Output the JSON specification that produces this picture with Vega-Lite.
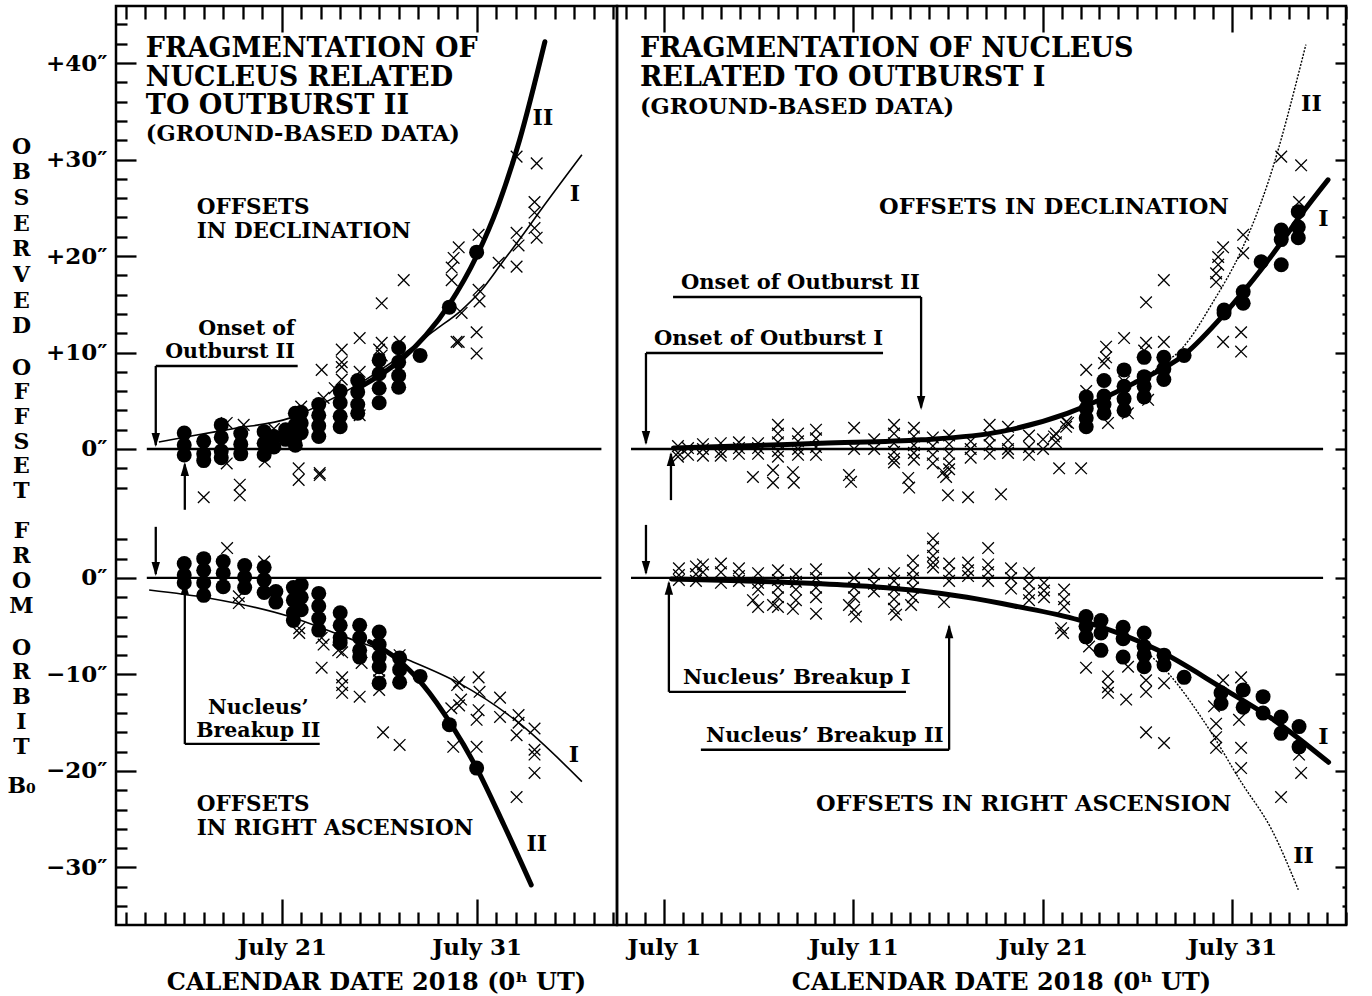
{
"$schema":"https://vega.github.io/schema/vega-lite/v6.json",
"background":"white",
"padding":{"left":5,"top":3,"right":5,"bottom":3},
"spacing":0,
"bounds":"flush",
"config":{
 "view":{"stroke":"black","strokeWidth":2.5},
 "axis":{"grid":false,"domain":false,"tickColor":"black","tickWidth":2.3,"labelFont":"DejaVu Serif","labelFontWeight":"bold","labelFontSize":23,"labelColor":"black","titleFont":"DejaVu Serif","titleFontWeight":"bold","titleFontSize":24,"titleColor":"black","labelOverlap":false,"labelFlush":false},
 "text":{"font":"DejaVu Serif"}
},
"datasets":{
 "LruD":[{"t":14.08,"t2":37.4,"v":0,"v2":0},{"t":14.54,"t2":21.82,"v":8.6,"v2":8.6},{"t":14.54,"t2":14.54,"v":8.6,"v2":0.4},{"t":16.03,"t2":16.03,"v":-6.3,"v2":-1.6}],
 "LruR":[{"t":14.08,"t2":37.4,"v":0,"v2":0},{"t":14.54,"t2":14.54,"v":5.3,"v2":0.4},{"t":16.03,"t2":16.03,"v":-17.2,"v2":-0.5},{"t":16.03,"t2":22.95,"v":-17.2,"v2":-17.2}],
 "LahD":[{"t":14.54,"v":0.2,"d":"down"},{"t":16.03,"v":-1.35,"d":"up"}],
 "LahR":[{"t":14.54,"v":0.2,"d":"down"},{"t":16.03,"v":-0.3,"d":"up"}],
 "RruD":[{"t":-0.74,"t2":35.81,"v":0,"v2":0},{"t":1.48,"t2":14.58,"v":15.75,"v2":15.75},{"t":14.58,"t2":14.58,"v":15.75,"v2":4.3},{"t":0.05,"t2":12.57,"v":9.95,"v2":9.95},{"t":0.05,"t2":0.05,"v":9.95,"v2":0.6},{"t":1.37,"t2":1.37,"v":-5.3,"v2":-0.5}],
 "RruR":[{"t":-0.74,"t2":35.81,"v":0,"v2":0},{"t":0.05,"t2":0.05,"v":5.5,"v2":0.5},{"t":1.26,"t2":1.26,"v":-11.8,"v2":-0.5},{"t":1.26,"t2":13.78,"v":-11.8,"v2":-11.8},{"t":16.06,"t2":16.06,"v":-17.8,"v2":-5.0},{"t":2.95,"t2":16.06,"v":-17.8,"v2":-17.8}],
 "RahD":[{"t":14.58,"v":4.04,"d":"down"},{"t":0.05,"v":0.41,"d":"down"},{"t":1.37,"v":-0.3,"d":"up"}],
 "RahR":[{"t":0.05,"v":0.3,"d":"down"},{"t":1.26,"v":-0.3,"d":"up"},{"t":16.06,"v":-4.8,"d":"up"}],
 "LDo":[{"t":16.0,"v":1.66},{"t":16.0,"v":0.41},{"t":16.0,"v":-0.62},{"t":17.0,"v":0.8},{"t":17.0,"v":-0.5},{"t":17.0,"v":-1.2},{"t":17.9,"v":2.5},{"t":17.9,"v":1.2},{"t":17.9,"v":-0.2},{"t":17.9,"v":-0.9},{"t":18.9,"v":1.6},{"t":18.9,"v":0.5},{"t":18.9,"v":-0.5},{"t":20.1,"v":1.8},{"t":20.1,"v":0.6},{"t":20.1,"v":-0.6},{"t":20.6,"v":1.3},{"t":20.6,"v":0.2},{"t":21.2,"v":2.0},{"t":21.2,"v":1.0},{"t":21.7,"v":3.7},{"t":21.7,"v":2.5},{"t":21.7,"v":1.2},{"t":21.7,"v":0.4},{"t":22.0,"v":3.8},{"t":22.0,"v":2.7},{"t":22.0,"v":1.7},{"t":22.9,"v":4.6},{"t":22.9,"v":3.5},{"t":22.9,"v":2.4},{"t":22.9,"v":1.3},{"t":24.0,"v":6.0},{"t":24.0,"v":4.8},{"t":24.0,"v":3.4},{"t":24.0,"v":2.3},{"t":24.9,"v":7.1},{"t":24.9,"v":5.9},{"t":24.9,"v":4.6},{"t":24.9,"v":3.7},{"t":26.0,"v":9.2},{"t":26.0,"v":7.8},{"t":26.0,"v":6.3},{"t":26.0,"v":4.8},{"t":27.0,"v":10.5},{"t":27.0,"v":9.0},{"t":27.0,"v":7.6},{"t":27.0,"v":6.4},{"t":28.1,"v":9.7},{"t":29.6,"v":14.7},{"t":31.0,"v":20.4}],
 "LDx":[{"t":17.0,"v":-5.0},{"t":18.85,"v":-3.7},{"t":18.85,"v":-4.8},{"t":21.87,"v":-2.0},{"t":21.87,"v":-3.2},{"t":22.95,"v":-2.5},{"t":22.95,"v":-2.7},{"t":18.18,"v":-1.5},{"t":18.18,"v":2.7},{"t":20.13,"v":-1.3},{"t":19.05,"v":2.5},{"t":23.05,"v":8.2},{"t":24.08,"v":10.3},{"t":24.08,"v":9.0},{"t":24.08,"v":8.5},{"t":24.08,"v":7.2},{"t":25.0,"v":11.5},{"t":25.0,"v":8.0},{"t":25.0,"v":3.5},{"t":26.13,"v":11.0},{"t":26.13,"v":9.7},{"t":26.13,"v":15.1},{"t":27.05,"v":11.1},{"t":23.15,"v":5.3},{"t":23.72,"v":6.3},{"t":29.97,"v":11.1},{"t":27.26,"v":17.5},{"t":33.05,"v":30.3},{"t":33.05,"v":22.4},{"t":33.05,"v":18.9},{"t":33.15,"v":21.1},{"t":34.08,"v":29.6},{"t":34.08,"v":21.9},{"t":33.97,"v":25.6},{"t":33.97,"v":24.5},{"t":33.97,"v":22.9},{"t":32.13,"v":19.3},{"t":31.1,"v":22.2},{"t":31.1,"v":16.5},{"t":31.15,"v":15.3},{"t":30.08,"v":20.9},{"t":30.08,"v":11.1},{"t":29.82,"v":19.8},{"t":29.72,"v":18.8},{"t":29.72,"v":17.5},{"t":30.23,"v":14.1},{"t":31.0,"v":12.1},{"t":31.0,"v":9.9},{"t":24.9,"v":6.8},{"t":22.0,"v":4.4},{"t":26.0,"v":10.3},{"t":20.6,"v":2.1}],
 "LRo":[{"t":16.0,"v":1.5},{"t":16.0,"v":0.3},{"t":16.0,"v":-0.5},{"t":17.0,"v":2.0},{"t":17.0,"v":0.8},{"t":17.0,"v":-0.5},{"t":17.0,"v":-1.8},{"t":18.0,"v":1.7},{"t":18.0,"v":0.5},{"t":18.0,"v":-0.9},{"t":19.1,"v":1.3},{"t":19.1,"v":0.1},{"t":19.1,"v":-1.0},{"t":20.1,"v":1.1},{"t":20.1,"v":-0.2},{"t":20.1,"v":-1.5},{"t":20.7,"v":-1.4},{"t":20.7,"v":-2.5},{"t":21.6,"v":-1.0},{"t":21.6,"v":-2.3},{"t":21.6,"v":-3.6},{"t":21.6,"v":-4.4},{"t":22.0,"v":-0.7},{"t":22.0,"v":-2.0},{"t":22.0,"v":-3.3},{"t":22.9,"v":-1.6},{"t":22.9,"v":-2.9},{"t":22.9,"v":-4.2},{"t":22.9,"v":-5.4},{"t":24.0,"v":-3.6},{"t":24.0,"v":-4.9},{"t":24.0,"v":-6.2},{"t":24.0,"v":-6.7},{"t":25.0,"v":-4.9},{"t":25.0,"v":-6.2},{"t":25.0,"v":-7.5},{"t":25.0,"v":-8.2},{"t":26.0,"v":-5.6},{"t":26.0,"v":-6.9},{"t":26.0,"v":-8.2},{"t":26.0,"v":-9.2},{"t":27.05,"v":-8.3},{"t":27.05,"v":-9.5},{"t":27.05,"v":-10.8},{"t":26.0,"v":-10.9},{"t":28.1,"v":-10.2},{"t":29.6,"v":-15.2},{"t":31.0,"v":-19.7}],
 "LRx":[{"t":18.2,"v":3.1},{"t":20.1,"v":1.7},{"t":18.8,"v":-1.9},{"t":18.8,"v":-2.6},{"t":21.9,"v":-5.2},{"t":21.9,"v":-5.7},{"t":23.05,"v":-6.2},{"t":23.05,"v":-9.3},{"t":23.15,"v":-6.9},{"t":23.9,"v":-7.5},{"t":24.1,"v":-7.7},{"t":24.1,"v":-10.3},{"t":24.1,"v":-11.1},{"t":24.1,"v":-11.9},{"t":25.0,"v":-12.3},{"t":25.1,"v":-8.8},{"t":26.0,"v":-10.6},{"t":26.0,"v":-11.6},{"t":30.0,"v":-11.1},{"t":26.2,"v":-16.0},{"t":27.05,"v":-17.3},{"t":30.1,"v":-10.8},{"t":30.1,"v":-13.2},{"t":31.1,"v":-10.3},{"t":31.15,"v":-11.8},{"t":30.2,"v":-12.6},{"t":29.7,"v":-13.5},{"t":32.2,"v":-12.4},{"t":32.2,"v":-14.4},{"t":31.1,"v":-13.7},{"t":31.0,"v":-14.7},{"t":33.15,"v":-14.2},{"t":33.15,"v":-15.0},{"t":33.05,"v":-16.3},{"t":33.05,"v":-22.7},{"t":33.97,"v":-15.6},{"t":33.97,"v":-17.8},{"t":33.97,"v":-18.3},{"t":33.97,"v":-20.2},{"t":29.8,"v":-17.5},{"t":31.0,"v":-17.5},{"t":26.0,"v":-9.6},{"t":27.05,"v":-8.0}],
 "RDo":[{"t":23.3,"v":5.4},{"t":23.3,"v":4.2},{"t":23.3,"v":2.3},{"t":23.3,"v":3.2},{"t":24.24,"v":7.1},{"t":24.24,"v":5.5},{"t":24.24,"v":3.7},{"t":24.24,"v":4.6},{"t":25.3,"v":8.2},{"t":25.3,"v":6.5},{"t":25.3,"v":4.0},{"t":25.3,"v":5.2},{"t":26.36,"v":9.5},{"t":26.36,"v":7.5},{"t":26.36,"v":5.4},{"t":26.36,"v":6.5},{"t":27.4,"v":9.5},{"t":27.4,"v":7.2},{"t":27.4,"v":8.3},{"t":28.47,"v":9.7},{"t":30.58,"v":14.4},{"t":30.58,"v":14.1},{"t":31.59,"v":16.3},{"t":31.59,"v":15.1},{"t":32.54,"v":19.4},{"t":33.6,"v":19.1},{"t":33.6,"v":22.7},{"t":33.6,"v":21.7},{"t":34.5,"v":24.6},{"t":34.5,"v":21.9},{"t":34.5,"v":23.0}],
 "RDx":[{"t":1.74,"v":0.3},{"t":1.74,"v":-0.4},{"t":1.74,"v":-0.8},{"t":2.27,"v":0.1},{"t":2.27,"v":-0.6},{"t":3.06,"v":0.5},{"t":3.06,"v":0.0},{"t":3.06,"v":-0.7},{"t":4.0,"v":0.6},{"t":4.0,"v":-0.3},{"t":4.0,"v":-0.7},{"t":4.96,"v":0.7},{"t":4.96,"v":0.1},{"t":4.96,"v":-0.5},{"t":5.97,"v":0.6},{"t":5.97,"v":0.1},{"t":5.97,"v":-0.5},{"t":7.02,"v":2.5},{"t":7.02,"v":1.6},{"t":7.02,"v":0.7},{"t":7.02,"v":-0.2},{"t":7.02,"v":-0.8},{"t":8.08,"v":1.6},{"t":8.08,"v":0.8},{"t":8.08,"v":0.0},{"t":8.08,"v":-0.6},{"t":9.03,"v":2.0},{"t":9.03,"v":1.1},{"t":9.03,"v":0.2},{"t":9.03,"v":-0.6},{"t":11.04,"v":2.2},{"t":11.04,"v":0.0},{"t":12.1,"v":1.0},{"t":12.1,"v":0.0},{"t":13.15,"v":2.5},{"t":13.15,"v":1.6},{"t":13.15,"v":0.6},{"t":13.15,"v":-0.3},{"t":13.15,"v":-1.0},{"t":13.15,"v":-1.4},{"t":14.2,"v":2.2},{"t":14.2,"v":1.3},{"t":14.2,"v":0.4},{"t":14.2,"v":-0.4},{"t":14.2,"v":-1.1},{"t":15.2,"v":1.2},{"t":15.2,"v":0.3},{"t":15.2,"v":-0.6},{"t":15.2,"v":-1.5},{"t":16.06,"v":1.4},{"t":16.06,"v":0.5},{"t":16.06,"v":-0.5},{"t":16.06,"v":-1.5},{"t":16.06,"v":-2.1},{"t":17.2,"v":0.8},{"t":17.2,"v":0.0},{"t":17.2,"v":-0.9},{"t":18.2,"v":2.5},{"t":18.2,"v":1.4},{"t":18.2,"v":0.4},{"t":18.2,"v":-0.5},{"t":19.17,"v":2.3},{"t":19.17,"v":0.9},{"t":19.17,"v":0.0},{"t":19.17,"v":-0.4},{"t":20.28,"v":1.4},{"t":20.28,"v":0.2},{"t":20.28,"v":-0.6},{"t":21.02,"v":1.0},{"t":21.02,"v":0.0},{"t":21.7,"v":1.6},{"t":21.7,"v":0.7},{"t":22.24,"v":2.3},{"t":22.24,"v":2.8},{"t":5.7,"v":-2.9},{"t":6.76,"v":-2.2},{"t":6.76,"v":-3.5},{"t":7.81,"v":-2.4},{"t":7.86,"v":-3.5},{"t":10.77,"v":-2.7},{"t":10.88,"v":-3.4},{"t":13.9,"v":-3.0},{"t":13.95,"v":-4.0},{"t":15.75,"v":-2.4},{"t":15.9,"v":-2.9},{"t":16.0,"v":-4.8},{"t":17.06,"v":-5.0},{"t":18.8,"v":-4.7},{"t":21.87,"v":-2.0},{"t":23.03,"v":-2.0},{"t":33.6,"v":30.3},{"t":34.65,"v":29.4},{"t":34.54,"v":25.6},{"t":31.59,"v":22.2},{"t":31.59,"v":20.3},{"t":30.53,"v":20.9},{"t":30.27,"v":19.9},{"t":30.27,"v":19.1},{"t":30.16,"v":18.2},{"t":30.16,"v":17.3},{"t":27.4,"v":17.5},{"t":27.4,"v":11.1},{"t":26.46,"v":15.2},{"t":26.46,"v":11.0},{"t":30.53,"v":11.1},{"t":31.48,"v":12.1},{"t":31.48,"v":10.1},{"t":25.3,"v":11.5},{"t":24.35,"v":10.6},{"t":24.35,"v":9.5},{"t":24.24,"v":8.9},{"t":23.3,"v":8.2},{"t":24.45,"v":2.7},{"t":25.5,"v":3.7},{"t":26.57,"v":5.1},{"t":22.34,"v":2.7},{"t":21.6,"v":1.3},{"t":23.3,"v":6.0},{"t":25.3,"v":7.0},{"t":26.36,"v":10.2}],
 "RRo":[{"t":23.29,"v":-4.0},{"t":23.29,"v":-6.1},{"t":23.29,"v":-5.0},{"t":24.08,"v":-4.4},{"t":24.08,"v":-5.7},{"t":24.08,"v":-7.5},{"t":25.25,"v":-5.1},{"t":25.25,"v":-6.3},{"t":25.25,"v":-8.2},{"t":26.36,"v":-5.7},{"t":26.36,"v":-7.1},{"t":26.36,"v":-9.2},{"t":26.36,"v":-8.0},{"t":27.41,"v":-8.0},{"t":27.41,"v":-9.0},{"t":28.47,"v":-10.3},{"t":30.42,"v":-11.9},{"t":30.42,"v":-13.0},{"t":31.59,"v":-11.6},{"t":31.59,"v":-13.4},{"t":32.64,"v":-12.3},{"t":32.64,"v":-14.0},{"t":33.59,"v":-14.4},{"t":33.59,"v":-16.1},{"t":34.54,"v":-15.4},{"t":34.54,"v":-17.5}],
 "RRx":[{"t":1.79,"v":1.0},{"t":1.79,"v":0.3},{"t":1.79,"v":-0.2},{"t":2.69,"v":1.2},{"t":2.69,"v":0.4},{"t":2.69,"v":-0.3},{"t":3.06,"v":1.4},{"t":3.06,"v":0.6},{"t":4.01,"v":1.5},{"t":4.01,"v":0.6},{"t":4.01,"v":-0.5},{"t":4.96,"v":1.0},{"t":4.96,"v":0.2},{"t":4.96,"v":-0.3},{"t":5.97,"v":0.5},{"t":5.97,"v":-0.5},{"t":5.97,"v":-1.2},{"t":5.97,"v":-3.0},{"t":7.02,"v":0.8},{"t":7.02,"v":-0.2},{"t":7.02,"v":-1.0},{"t":7.02,"v":-2.0},{"t":7.02,"v":-3.0},{"t":7.97,"v":0.4},{"t":7.97,"v":-0.4},{"t":7.97,"v":-1.2},{"t":7.97,"v":-2.3},{"t":9.03,"v":0.9},{"t":9.03,"v":0.0},{"t":9.03,"v":-1.0},{"t":9.03,"v":-2.0},{"t":11.04,"v":0.0},{"t":11.04,"v":-1.0},{"t":11.04,"v":-2.0},{"t":11.04,"v":-3.3},{"t":12.09,"v":0.4},{"t":12.09,"v":-0.6},{"t":12.09,"v":-1.4},{"t":13.15,"v":0.5},{"t":13.15,"v":-0.3},{"t":13.15,"v":-1.2},{"t":13.15,"v":-2.2},{"t":13.15,"v":-3.2},{"t":14.15,"v":1.8},{"t":14.15,"v":0.8},{"t":14.15,"v":0.0},{"t":14.15,"v":-1.0},{"t":14.15,"v":-2.0},{"t":15.21,"v":4.1},{"t":15.21,"v":3.2},{"t":15.21,"v":2.3},{"t":15.21,"v":1.6},{"t":15.21,"v":1.1},{"t":16.06,"v":1.5},{"t":16.06,"v":0.5},{"t":16.06,"v":-0.3},{"t":17.06,"v":1.6},{"t":17.06,"v":0.8},{"t":17.06,"v":0.2},{"t":18.12,"v":3.1},{"t":18.12,"v":1.4},{"t":18.12,"v":0.6},{"t":18.12,"v":-0.3},{"t":19.33,"v":1.0},{"t":19.33,"v":0.0},{"t":19.33,"v":-1.1},{"t":20.28,"v":0.5},{"t":20.28,"v":-0.6},{"t":20.28,"v":-1.6},{"t":20.28,"v":-2.3},{"t":21.07,"v":-0.5},{"t":21.07,"v":-1.3},{"t":21.07,"v":-2.0},{"t":22.13,"v":-1.2},{"t":22.13,"v":-2.2},{"t":22.13,"v":-3.0},{"t":5.7,"v":-2.3},{"t":6.76,"v":-2.8},{"t":7.81,"v":-3.2},{"t":9.03,"v":-3.7},{"t":10.77,"v":-2.8},{"t":11.14,"v":-4.0},{"t":13.26,"v":-3.8},{"t":14.05,"v":-2.8},{"t":15.79,"v":-2.5},{"t":23.29,"v":-9.3},{"t":24.45,"v":-10.2},{"t":24.45,"v":-11.3},{"t":24.45,"v":-11.9},{"t":25.41,"v":-12.6},{"t":26.46,"v":-10.6},{"t":26.46,"v":-11.8},{"t":26.46,"v":-16.0},{"t":27.41,"v":-17.1},{"t":27.41,"v":-10.9},{"t":30.05,"v":-13.3},{"t":30.16,"v":-15.1},{"t":30.16,"v":-16.5},{"t":30.16,"v":-17.6},{"t":31.48,"v":-10.3},{"t":31.48,"v":-17.6},{"t":31.48,"v":-19.7},{"t":31.37,"v":-14.7},{"t":30.53,"v":-10.6},{"t":34.54,"v":-18.3},{"t":34.65,"v":-20.2},{"t":33.59,"v":-22.7},{"t":21.97,"v":-5.2},{"t":22.08,"v":-5.7},{"t":23.45,"v":-7.1},{"t":25.51,"v":-9.2}],
 "LDI":[{"t":14.7,"v":0.73},{"t":16.5,"v":1.4},{"t":18.5,"v":2.1},{"t":21.4,"v":3.2},{"t":23,"v":4.6},{"t":25,"v":6.8},{"t":27,"v":9.5},{"t":28.85,"v":12.3},{"t":30.23,"v":14.4},{"t":31.26,"v":16.5},{"t":32.3,"v":19.3},{"t":33.3,"v":22.0},{"t":34.3,"v":24.8},{"t":36.4,"v":30.5}],
 "LDII":[{"t":25,"v":6.4},{"t":26,"v":7.6},{"t":27.15,"v":9.3},{"t":28.4,"v":11.8},{"t":29.6,"v":15.0},{"t":31.0,"v":20.0},{"t":32.1,"v":25.2},{"t":33.2,"v":32.0},{"t":34.5,"v":42.2}],
 "LRI":[{"t":14.2,"v":-1.25},{"t":17.3,"v":-2.1},{"t":21.4,"v":-4.0},{"t":24.1,"v":-6.0},{"t":27.5,"v":-8.5},{"t":30.1,"v":-10.9},{"t":33.15,"v":-15.0},{"t":36.4,"v":-21.1}],
 "LRII":[{"t":25.5,"v":-6.6},{"t":26.8,"v":-8.2},{"t":28.3,"v":-11.2},{"t":29.7,"v":-15.2},{"t":31.0,"v":-19.7},{"t":32.4,"v":-25.6},{"t":33.8,"v":-31.8}],
 "RDI":[{"t":1.5,"v":0.1},{"t":5,"v":0.3},{"t":9.3,"v":0.6},{"t":14.6,"v":0.95},{"t":18.8,"v":1.8},{"t":22.3,"v":3.7},{"t":25.8,"v":6.8},{"t":28.5,"v":9.8},{"t":30.6,"v":14.0},{"t":31.6,"v":16.3},{"t":32.54,"v":18.6},{"t":33.6,"v":21.4},{"t":34.65,"v":24.3},{"t":36.07,"v":27.9}],
 "RDII":[{"t":26.5,"v":7.6},{"t":27.3,"v":8.7},{"t":28.3,"v":10.3},{"t":30.05,"v":15.4},{"t":31.5,"v":20.6},{"t":32.9,"v":27.6},{"t":34.9,"v":41.9}],
 "RRI":[{"t":1.4,"v":-0.1},{"t":5,"v":-0.3},{"t":9.3,"v":-0.6},{"t":12,"v":-0.9},{"t":14.6,"v":-1.35},{"t":17,"v":-2.0},{"t":19.5,"v":-2.9},{"t":22.9,"v":-4.35},{"t":27.1,"v":-7.5},{"t":30.4,"v":-11.3},{"t":33.2,"v":-14.7},{"t":36.1,"v":-19.1}],
 "RRII":[{"t":26.0,"v":-6.9},{"t":27.6,"v":-9.8},{"t":29.7,"v":-15.4},{"t":31.5,"v":-21.2},{"t":33.1,"v":-26.1},{"t":34.5,"v":-32.3}],
 "LtDt":[{"t":14.03,"v":40.6,"txt":"FRAGMENTATION OF\nNUCLEUS RELATED\nTO OUTBURST II"}],
 "LtDs":[{"t":14.03,"v":31.9,"txt":"(GROUND-BASED DATA)"}],
 "LtDm":[{"t":16.64,"v":24.35,"txt":"OFFSETS\nIN DECLINATION"}],
 "LtDc":[{"t":33.87,"v":33.6,"txt":"II"},{"t":35.77,"v":25.7,"txt":"I"}],
 "LtDr":[{"t":21.67,"v":11.8,"txt":"Onset of\nOutburst II"}],
 "LtRs":[{"t":16.64,"v":-24.1,"txt":"OFFSETS\nIN RIGHT ASCENSION"}],
 "LtRm":[{"t":19.8,"v":-14.1,"txt":"Nucleus’\nBreakup II"}],
 "LtRc":[{"t":35.72,"v":-19.1,"txt":"I"},{"t":33.56,"v":-28.3,"txt":"II"}],
 "RtDt":[{"t":-0.27,"v":40.6,"txt":"FRAGMENTATION OF NUCLEUS\nRELATED TO OUTBURST I"}],
 "RtDs":[{"t":-0.27,"v":34.7,"txt":"(GROUND-BASED DATA)"},{"t":12.36,"v":24.35,"txt":"OFFSETS IN DECLINATION"}],
 "RtDn":[{"t":1.9,"v":16.6,"txt":"Onset of Outburst II"},{"t":0.47,"v":10.8,"txt":"Onset of Outburst I"}],
 "RtDc":[{"t":34.65,"v":35.0,"txt":"II"},{"t":35.55,"v":23.1,"txt":"I"}],
 "RtRs":[{"t":9.03,"v":-24.1,"txt":"OFFSETS IN RIGHT ASCENSION"}],
 "RtRn":[{"t":2.0,"v":-11.0,"txt":"Nucleus’ Breakup I"},{"t":3.22,"v":-17.0,"txt":"Nucleus’ Breakup II"}],
 "RtRc":[{"t":35.55,"v":-17.2,"txt":"I"},{"t":34.23,"v":-29.5,"txt":"II"}]
},
"hconcat":[
{
 "width":501,"height":919,
 "resolve":{"scale":{"y":"independent"},"axis":{"x":"independent","y":"independent"}},
 "layer":[
  {"data":{"name":"LruD"},"mark":{"type":"rule","strokeWidth":2.3,"color":"black"},
   "encoding":{
    "x":{"field":"t","type":"quantitative","scale":{"domain":[12.5,38.2],"nice":false,"zero":false},
      "axis":{"orient":"bottom","values":[13,14,15,16,17,18,19,20,21,22,23,24,25,26,27,28,29,30,31,32,33,34,35,36,37,38],"labelExpr":"(datum.value - 1) % 10 === 0 && datum.value > 0 ? 'July ' + datum.value : ''","tickSize":{"condition":{"test":"(datum.value - 1) % 10 === 0","value":-26},"value":-13},"labelPadding":37,"title":"CALENDAR DATE 2018 (0ʰ UT)","titlePadding":-2,"titleX":260,"titleAlign":"center"}},
    "x2":{"field":"t2"},
    "y":{"field":"v","type":"quantitative","scale":{"domain":[-49.33,45.91],"nice":false,"zero":false},
      "axis":{"orient":"left","values":[-4,-2,0,2,4,6,8,10,12,14,16,18,20,22,24,26,28,30,32,34,36,38,40,42,44],"labelExpr":"datum.value % 10 === 0 ? (datum.value > 0 ? '+' : '') + datum.value + '″' : ''","tickSize":{"condition":{"test":"datum.value % 10 === 0","value":-20},"value":-11},"labelPadding":29,
       "title":["O","B","S","E","R","V","E","D"],
       "titleAngle":0,"titleAlign":"center","titleBaseline":"top","titleX":-95,"titleY":130,"titleLineHeight":25.7,"titleFontSize":22}},
    "y2":{"field":"v2"}}},
  {"data":{"name":"LruR"},"mark":{"type":"rule","strokeWidth":2.3,"color":"black"},
   "encoding":{
    "x":{"field":"t","type":"quantitative","scale":{"domain":[12.5,38.2],"nice":false,"zero":false},
      "axis":{"orient":"top","values":[13,14,15,16,17,18,19,20,21,22,23,24,25,26,27,28,29,30,31,32,33,34,35,36,37,38],"labels":false,"tickSize":{"condition":{"test":"(datum.value - 1) % 10 === 0","value":-26},"value":-13},"title":null}},
    "x2":{"field":"t2"},
    "y":{"field":"v","type":"quantitative","scale":{"domain":[-35.96,59.27],"nice":false,"zero":false},
      "axis":{"orient":"left","values":[-34,-32,-30,-28,-26,-24,-22,-20,-18,-16,-14,-12,-10,-8,-6,-4,-2,0,2,4],"labelExpr":"datum.value % 10 === 0 ? (datum.value < 0 ? '−' + (-datum.value) : '' + datum.value) + '″' : ''","tickSize":{"condition":{"test":"datum.value % 10 === 0","value":-20},"value":-11},"labelPadding":29,
       "title":["O","F","F","S","E","T"],
       "titleAngle":0,"titleAlign":"center","titleBaseline":"top","titleX":-95,"titleY":351,"titleLineHeight":24.7,"titleFontSize":22}},
    "y2":{"field":"v2"}}},
  {"data":{"name":"LruD"},"mark":{"type":"rule","opacity":0},
   "encoding":{
    "x":{"field":"t","type":"quantitative","scale":{"domain":[12.5,38.2],"nice":false,"zero":false},"axis":null},
    "x2":{"field":"t2"},
    "y":{"field":"v","type":"quantitative","scale":{"domain":[-49.33,45.91],"nice":false,"zero":false},
      "axis":{"orient":"left","ticks":false,"labels":false,"title":["F","R","O","M"],"titleAngle":0,"titleAlign":"center","titleBaseline":"top","titleX":-95,"titleY":514,"titleLineHeight":25.3,"titleFontSize":22}},
    "y2":{"field":"v2"}}},
  {"data":{"name":"LruR"},"mark":{"type":"rule","opacity":0},
   "encoding":{
    "x":{"field":"t","type":"quantitative","scale":{"domain":[12.5,38.2],"nice":false,"zero":false},"axis":null},
    "x2":{"field":"t2"},
    "y":{"field":"v","type":"quantitative","scale":{"domain":[-35.96,59.27],"nice":false,"zero":false},
      "axis":{"orient":"left","ticks":false,"labels":false,"title":["O","R","B","I","T"],"titleAngle":0,"titleAlign":"center","titleBaseline":"top","titleX":-95,"titleY":631,"titleLineHeight":24.8,"titleFontSize":22}},
    "y2":{"field":"v2"}}},
  {"data":{"name":"LahD"},"mark":{"type":"point","opacity":0},
   "encoding":{
    "x":{"field":"t","type":"quantitative","scale":{"domain":[12.5,38.2],"nice":false,"zero":false},"axis":null},
    "y":{"field":"v","type":"quantitative","scale":{"domain":[-49.33,45.91],"nice":false,"zero":false},
      "axis":{"orient":"left","ticks":false,"labels":false,"title":"B₀","titleAngle":0,"titleAlign":"center","titleBaseline":"top","titleX":-95,"titleY":769,"titleFontSize":22}}}},
  {"data":{"name":"LDx"},"mark":{"type":"point","shape":"M-1,-1L1,1M-1,1L1,-1","size":135,"filled":false,"stroke":"black","strokeWidth":1.3,"opacity":1},
   "encoding":{"x":{"field":"t","type":"quantitative","scale":{"domain":[12.5,38.2],"nice":false,"zero":false},"axis":null},"y":{"field":"v","type":"quantitative","scale":{"domain":[-49.33,45.91],"nice":false,"zero":false},"axis":null}}},
  {"data":{"name":"LRx"},"mark":{"type":"point","shape":"M-1,-1L1,1M-1,1L1,-1","size":135,"filled":false,"stroke":"black","strokeWidth":1.3,"opacity":1},
   "encoding":{"x":{"field":"t","type":"quantitative","scale":{"domain":[12.5,38.2],"nice":false,"zero":false},"axis":null},"y":{"field":"v","type":"quantitative","scale":{"domain":[-35.96,59.27],"nice":false,"zero":false},"axis":null}}},
  {"data":{"name":"LDI"},"mark":{"type":"line","interpolate":"monotone","strokeWidth":1.6,"color":"black"},
   "encoding":{"x":{"field":"t","type":"quantitative","scale":{"domain":[12.5,38.2],"nice":false,"zero":false},"axis":null},"y":{"field":"v","type":"quantitative","scale":{"domain":[-49.33,45.91],"nice":false,"zero":false},"axis":null}}},
  {"data":{"name":"LRI"},"mark":{"type":"line","interpolate":"monotone","strokeWidth":1.6,"color":"black"},
   "encoding":{"x":{"field":"t","type":"quantitative","scale":{"domain":[12.5,38.2],"nice":false,"zero":false},"axis":null},"y":{"field":"v","type":"quantitative","scale":{"domain":[-35.96,59.27],"nice":false,"zero":false},"axis":null}}},
  {"data":{"name":"LDo"},"mark":{"type":"point","shape":"circle","size":225,"filled":true,"fill":"black","opacity":1},
   "encoding":{"x":{"field":"t","type":"quantitative","scale":{"domain":[12.5,38.2],"nice":false,"zero":false},"axis":null},"y":{"field":"v","type":"quantitative","scale":{"domain":[-49.33,45.91],"nice":false,"zero":false},"axis":null}}},
  {"data":{"name":"LRo"},"mark":{"type":"point","shape":"circle","size":225,"filled":true,"fill":"black","opacity":1},
   "encoding":{"x":{"field":"t","type":"quantitative","scale":{"domain":[12.5,38.2],"nice":false,"zero":false},"axis":null},"y":{"field":"v","type":"quantitative","scale":{"domain":[-35.96,59.27],"nice":false,"zero":false},"axis":null}}},
  {"data":{"name":"LDII"},"mark":{"type":"line","interpolate":"monotone","strokeWidth":5,"strokeCap":"round","color":"black"},
   "encoding":{"x":{"field":"t","type":"quantitative","scale":{"domain":[12.5,38.2],"nice":false,"zero":false},"axis":null},"y":{"field":"v","type":"quantitative","scale":{"domain":[-49.33,45.91],"nice":false,"zero":false},"axis":null}}},
  {"data":{"name":"LRII"},"mark":{"type":"line","interpolate":"monotone","strokeWidth":5,"strokeCap":"round","color":"black"},
   "encoding":{"x":{"field":"t","type":"quantitative","scale":{"domain":[12.5,38.2],"nice":false,"zero":false},"axis":null},"y":{"field":"v","type":"quantitative","scale":{"domain":[-35.96,59.27],"nice":false,"zero":false},"axis":null}}},
  {"data":{"name":"LahD"},"mark":{"type":"point","filled":true,"fill":"black","size":196,"opacity":1},
   "encoding":{"x":{"field":"t","type":"quantitative","scale":{"domain":[12.5,38.2],"nice":false,"zero":false},"axis":null},"y":{"field":"v","type":"quantitative","scale":{"domain":[-49.33,45.91],"nice":false,"zero":false},"axis":null},
    "shape":{"field":"d","type":"nominal","scale":{"domain":["down","up"],"range":["M-0.6,-2L0.6,-2L0,0Z","M-0.6,2L0.6,2L0,0Z"]},"legend":null}}},
  {"data":{"name":"LahR"},"mark":{"type":"point","filled":true,"fill":"black","size":196,"opacity":1},
   "encoding":{"x":{"field":"t","type":"quantitative","scale":{"domain":[12.5,38.2],"nice":false,"zero":false},"axis":null},"y":{"field":"v","type":"quantitative","scale":{"domain":[-35.96,59.27],"nice":false,"zero":false},"axis":null},
    "shape":{"field":"d","type":"nominal","scale":{"domain":["down","up"],"range":["M-0.6,-2L0.6,-2L0,0Z","M-0.6,2L0.6,2L0,0Z"]},"legend":null}}},
  {"data":{"name":"LtDt"},"mark":{"type":"text","align":"left","baseline":"alphabetic","lineBreak":"\n","font":"DejaVu Serif","fontWeight":"bold","fontSize":27,"lineHeight":28.5,"fill":"black"},
   "encoding":{"x":{"field":"t","type":"quantitative","scale":{"domain":[12.5,38.2],"nice":false,"zero":false},"axis":null},"y":{"field":"v","type":"quantitative","scale":{"domain":[-49.33,45.91],"nice":false,"zero":false},"axis":null},"text":{"field":"txt"}}},
  {"data":{"name":"LtDs"},"mark":{"type":"text","align":"left","baseline":"alphabetic","font":"DejaVu Serif","fontWeight":"bold","fontSize":22.5,"fill":"black"},
   "encoding":{"x":{"field":"t","type":"quantitative","scale":{"domain":[12.5,38.2],"nice":false,"zero":false},"axis":null},"y":{"field":"v","type":"quantitative","scale":{"domain":[-49.33,45.91],"nice":false,"zero":false},"axis":null},"text":{"field":"txt"}}},
  {"data":{"name":"LtDm"},"mark":{"type":"text","align":"left","baseline":"alphabetic","lineBreak":"\n","font":"DejaVu Serif","fontWeight":"bold","fontSize":21.5,"lineHeight":24,"fill":"black"},
   "encoding":{"x":{"field":"t","type":"quantitative","scale":{"domain":[12.5,38.2],"nice":false,"zero":false},"axis":null},"y":{"field":"v","type":"quantitative","scale":{"domain":[-49.33,45.91],"nice":false,"zero":false},"axis":null},"text":{"field":"txt"}}},
  {"data":{"name":"LtDc"},"mark":{"type":"text","align":"left","baseline":"alphabetic","font":"DejaVu Serif","fontWeight":"bold","fontSize":22,"fill":"black"},
   "encoding":{"x":{"field":"t","type":"quantitative","scale":{"domain":[12.5,38.2],"nice":false,"zero":false},"axis":null},"y":{"field":"v","type":"quantitative","scale":{"domain":[-49.33,45.91],"nice":false,"zero":false},"axis":null},"text":{"field":"txt"}}},
  {"data":{"name":"LtDr"},"mark":{"type":"text","align":"right","baseline":"alphabetic","lineBreak":"\n","font":"DejaVu Serif","fontWeight":"bold","fontSize":20.5,"lineHeight":23,"fill":"black"},
   "encoding":{"x":{"field":"t","type":"quantitative","scale":{"domain":[12.5,38.2],"nice":false,"zero":false},"axis":null},"y":{"field":"v","type":"quantitative","scale":{"domain":[-49.33,45.91],"nice":false,"zero":false},"axis":null},"text":{"field":"txt"}}},
  {"data":{"name":"LtRs"},"mark":{"type":"text","align":"left","baseline":"alphabetic","lineBreak":"\n","font":"DejaVu Serif","fontWeight":"bold","fontSize":21.5,"lineHeight":24,"fill":"black"},
   "encoding":{"x":{"field":"t","type":"quantitative","scale":{"domain":[12.5,38.2],"nice":false,"zero":false},"axis":null},"y":{"field":"v","type":"quantitative","scale":{"domain":[-35.96,59.27],"nice":false,"zero":false},"axis":null},"text":{"field":"txt"}}},
  {"data":{"name":"LtRm"},"mark":{"type":"text","align":"center","baseline":"alphabetic","lineBreak":"\n","font":"DejaVu Serif","fontWeight":"bold","fontSize":20.5,"lineHeight":23,"fill":"black"},
   "encoding":{"x":{"field":"t","type":"quantitative","scale":{"domain":[12.5,38.2],"nice":false,"zero":false},"axis":null},"y":{"field":"v","type":"quantitative","scale":{"domain":[-35.96,59.27],"nice":false,"zero":false},"axis":null},"text":{"field":"txt"}}},
  {"data":{"name":"LtRc"},"mark":{"type":"text","align":"left","baseline":"alphabetic","font":"DejaVu Serif","fontWeight":"bold","fontSize":22,"fill":"black"},
   "encoding":{"x":{"field":"t","type":"quantitative","scale":{"domain":[12.5,38.2],"nice":false,"zero":false},"axis":null},"y":{"field":"v","type":"quantitative","scale":{"domain":[-35.96,59.27],"nice":false,"zero":false},"axis":null},"text":{"field":"txt"}}}
 ]
},
{
 "width":729,"height":919,
 "resolve":{"scale":{"y":"independent"},"axis":{"x":"independent","y":"independent"}},
 "layer":[
  {"data":{"name":"RruD"},"mark":{"type":"rule","strokeWidth":2.3,"color":"black"},
   "encoding":{
    "x":{"field":"t","type":"quantitative","scale":{"domain":[-1.48,37.02],"nice":false,"zero":false},
      "axis":{"orient":"bottom","values":[-1,0,1,2,3,4,5,6,7,8,9,10,11,12,13,14,15,16,17,18,19,20,21,22,23,24,25,26,27,28,29,30,31,32,33,34,35,36,37],"labelExpr":"(datum.value - 1) % 10 === 0 && datum.value > 0 ? 'July ' + datum.value : ''","tickSize":{"condition":{"test":"(datum.value - 1) % 10 === 0","value":-26},"value":-13},"labelPadding":37,"title":"CALENDAR DATE 2018 (0ʰ UT)","titlePadding":-2,"titleX":384,"titleAlign":"center"}},
    "x2":{"field":"t2"},
    "y":{"field":"v","type":"quantitative","scale":{"domain":[-49.33,45.91],"nice":false,"zero":false},
      "axis":{"orient":"right","values":[-4,-2,0,2,4,6,8,10,12,14,16,18,20,22,24,26,28,30,32,34,36,38,40,42,44],"labels":false,"tickSize":{"condition":{"test":"datum.value % 10 === 0","value":-11},"value":-4},"title":null}},
    "y2":{"field":"v2"}}},
  {"data":{"name":"RruR"},"mark":{"type":"rule","strokeWidth":2.3,"color":"black"},
   "encoding":{
    "x":{"field":"t","type":"quantitative","scale":{"domain":[-1.48,37.02],"nice":false,"zero":false},
      "axis":{"orient":"top","values":[-1,0,1,2,3,4,5,6,7,8,9,10,11,12,13,14,15,16,17,18,19,20,21,22,23,24,25,26,27,28,29,30,31,32,33,34,35,36,37],"labels":false,"tickSize":{"condition":{"test":"(datum.value - 1) % 10 === 0","value":-26},"value":-13},"title":null}},
    "x2":{"field":"t2"},
    "y":{"field":"v","type":"quantitative","scale":{"domain":[-35.96,59.27],"nice":false,"zero":false},
      "axis":{"orient":"right","values":[-34,-32,-30,-28,-26,-24,-22,-20,-18,-16,-14,-12,-10,-8,-6,-4,-2,0,2,4],"labels":false,"tickSize":{"condition":{"test":"datum.value % 10 === 0","value":-11},"value":-4},"title":null}},
    "y2":{"field":"v2"}}},
  {"data":{"name":"RDx"},"mark":{"type":"point","shape":"M-1,-1L1,1M-1,1L1,-1","size":135,"filled":false,"stroke":"black","strokeWidth":1.3,"opacity":1},
   "encoding":{"x":{"field":"t","type":"quantitative","scale":{"domain":[-1.48,37.02],"nice":false,"zero":false},"axis":null},"y":{"field":"v","type":"quantitative","scale":{"domain":[-49.33,45.91],"nice":false,"zero":false},"axis":null}}},
  {"data":{"name":"RRx"},"mark":{"type":"point","shape":"M-1,-1L1,1M-1,1L1,-1","size":135,"filled":false,"stroke":"black","strokeWidth":1.3,"opacity":1},
   "encoding":{"x":{"field":"t","type":"quantitative","scale":{"domain":[-1.48,37.02],"nice":false,"zero":false},"axis":null},"y":{"field":"v","type":"quantitative","scale":{"domain":[-35.96,59.27],"nice":false,"zero":false},"axis":null}}},
  {"data":{"name":"RDII"},"mark":{"type":"line","interpolate":"monotone","strokeWidth":1.4,"strokeDash":[2,1.5],"color":"black"},
   "encoding":{"x":{"field":"t","type":"quantitative","scale":{"domain":[-1.48,37.02],"nice":false,"zero":false},"axis":null},"y":{"field":"v","type":"quantitative","scale":{"domain":[-49.33,45.91],"nice":false,"zero":false},"axis":null}}},
  {"data":{"name":"RRII"},"mark":{"type":"line","interpolate":"monotone","strokeWidth":1.4,"strokeDash":[2,1.5],"color":"black"},
   "encoding":{"x":{"field":"t","type":"quantitative","scale":{"domain":[-1.48,37.02],"nice":false,"zero":false},"axis":null},"y":{"field":"v","type":"quantitative","scale":{"domain":[-35.96,59.27],"nice":false,"zero":false},"axis":null}}},
  {"data":{"name":"RDo"},"mark":{"type":"point","shape":"circle","size":225,"filled":true,"fill":"black","opacity":1},
   "encoding":{"x":{"field":"t","type":"quantitative","scale":{"domain":[-1.48,37.02],"nice":false,"zero":false},"axis":null},"y":{"field":"v","type":"quantitative","scale":{"domain":[-49.33,45.91],"nice":false,"zero":false},"axis":null}}},
  {"data":{"name":"RRo"},"mark":{"type":"point","shape":"circle","size":225,"filled":true,"fill":"black","opacity":1},
   "encoding":{"x":{"field":"t","type":"quantitative","scale":{"domain":[-1.48,37.02],"nice":false,"zero":false},"axis":null},"y":{"field":"v","type":"quantitative","scale":{"domain":[-35.96,59.27],"nice":false,"zero":false},"axis":null}}},
  {"data":{"name":"RDI"},"mark":{"type":"line","interpolate":"monotone","strokeWidth":5,"strokeCap":"round","color":"black"},
   "encoding":{"x":{"field":"t","type":"quantitative","scale":{"domain":[-1.48,37.02],"nice":false,"zero":false},"axis":null},"y":{"field":"v","type":"quantitative","scale":{"domain":[-49.33,45.91],"nice":false,"zero":false},"axis":null}}},
  {"data":{"name":"RRI"},"mark":{"type":"line","interpolate":"monotone","strokeWidth":5,"strokeCap":"round","color":"black"},
   "encoding":{"x":{"field":"t","type":"quantitative","scale":{"domain":[-1.48,37.02],"nice":false,"zero":false},"axis":null},"y":{"field":"v","type":"quantitative","scale":{"domain":[-35.96,59.27],"nice":false,"zero":false},"axis":null}}},
  {"data":{"name":"RahD"},"mark":{"type":"point","filled":true,"fill":"black","size":196,"opacity":1},
   "encoding":{"x":{"field":"t","type":"quantitative","scale":{"domain":[-1.48,37.02],"nice":false,"zero":false},"axis":null},"y":{"field":"v","type":"quantitative","scale":{"domain":[-49.33,45.91],"nice":false,"zero":false},"axis":null},
    "shape":{"field":"d","type":"nominal","scale":{"domain":["down","up"],"range":["M-0.6,-2L0.6,-2L0,0Z","M-0.6,2L0.6,2L0,0Z"]},"legend":null}}},
  {"data":{"name":"RahR"},"mark":{"type":"point","filled":true,"fill":"black","size":196,"opacity":1},
   "encoding":{"x":{"field":"t","type":"quantitative","scale":{"domain":[-1.48,37.02],"nice":false,"zero":false},"axis":null},"y":{"field":"v","type":"quantitative","scale":{"domain":[-35.96,59.27],"nice":false,"zero":false},"axis":null},
    "shape":{"field":"d","type":"nominal","scale":{"domain":["down","up"],"range":["M-0.6,-2L0.6,-2L0,0Z","M-0.6,2L0.6,2L0,0Z"]},"legend":null}}},
  {"data":{"name":"RtDt"},"mark":{"type":"text","align":"left","baseline":"alphabetic","lineBreak":"\n","font":"DejaVu Serif","fontWeight":"bold","fontSize":27,"lineHeight":28.5,"fill":"black"},
   "encoding":{"x":{"field":"t","type":"quantitative","scale":{"domain":[-1.48,37.02],"nice":false,"zero":false},"axis":null},"y":{"field":"v","type":"quantitative","scale":{"domain":[-49.33,45.91],"nice":false,"zero":false},"axis":null},"text":{"field":"txt"}}},
  {"data":{"name":"RtDs"},"mark":{"type":"text","align":"left","baseline":"alphabetic","font":"DejaVu Serif","fontWeight":"bold","fontSize":22.5,"fill":"black"},
   "encoding":{"x":{"field":"t","type":"quantitative","scale":{"domain":[-1.48,37.02],"nice":false,"zero":false},"axis":null},"y":{"field":"v","type":"quantitative","scale":{"domain":[-49.33,45.91],"nice":false,"zero":false},"axis":null},"text":{"field":"txt"}}},
  {"data":{"name":"RtDn"},"mark":{"type":"text","align":"left","baseline":"alphabetic","font":"DejaVu Serif","fontWeight":"bold","fontSize":21,"fill":"black"},
   "encoding":{"x":{"field":"t","type":"quantitative","scale":{"domain":[-1.48,37.02],"nice":false,"zero":false},"axis":null},"y":{"field":"v","type":"quantitative","scale":{"domain":[-49.33,45.91],"nice":false,"zero":false},"axis":null},"text":{"field":"txt"}}},
  {"data":{"name":"RtDc"},"mark":{"type":"text","align":"left","baseline":"alphabetic","font":"DejaVu Serif","fontWeight":"bold","fontSize":22,"fill":"black"},
   "encoding":{"x":{"field":"t","type":"quantitative","scale":{"domain":[-1.48,37.02],"nice":false,"zero":false},"axis":null},"y":{"field":"v","type":"quantitative","scale":{"domain":[-49.33,45.91],"nice":false,"zero":false},"axis":null},"text":{"field":"txt"}}},
  {"data":{"name":"RtRs"},"mark":{"type":"text","align":"left","baseline":"alphabetic","font":"DejaVu Serif","fontWeight":"bold","fontSize":22.5,"fill":"black"},
   "encoding":{"x":{"field":"t","type":"quantitative","scale":{"domain":[-1.48,37.02],"nice":false,"zero":false},"axis":null},"y":{"field":"v","type":"quantitative","scale":{"domain":[-35.96,59.27],"nice":false,"zero":false},"axis":null},"text":{"field":"txt"}}},
  {"data":{"name":"RtRn"},"mark":{"type":"text","align":"left","baseline":"alphabetic","font":"DejaVu Serif","fontWeight":"bold","fontSize":21,"fill":"black"},
   "encoding":{"x":{"field":"t","type":"quantitative","scale":{"domain":[-1.48,37.02],"nice":false,"zero":false},"axis":null},"y":{"field":"v","type":"quantitative","scale":{"domain":[-35.96,59.27],"nice":false,"zero":false},"axis":null},"text":{"field":"txt"}}},
  {"data":{"name":"RtRc"},"mark":{"type":"text","align":"left","baseline":"alphabetic","font":"DejaVu Serif","fontWeight":"bold","fontSize":22,"fill":"black"},
   "encoding":{"x":{"field":"t","type":"quantitative","scale":{"domain":[-1.48,37.02],"nice":false,"zero":false},"axis":null},"y":{"field":"v","type":"quantitative","scale":{"domain":[-35.96,59.27],"nice":false,"zero":false},"axis":null},"text":{"field":"txt"}}}
 ]
}
]
}
